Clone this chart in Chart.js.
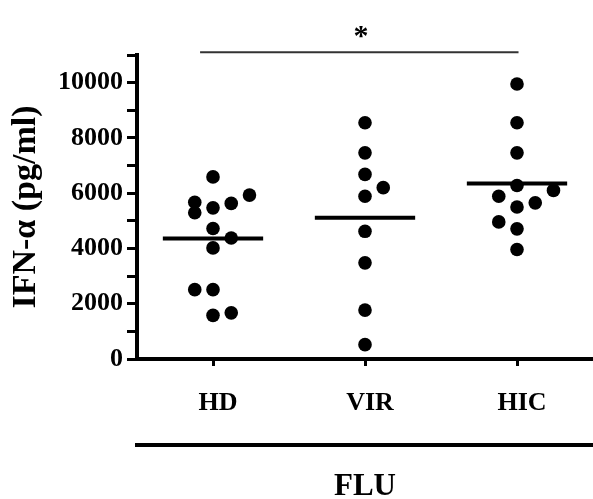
<!DOCTYPE html>
<html>
<head>
<meta charset="utf-8">
<script src="https://cdn.jsdelivr.net/npm/chart.js@4/dist/chart.umd.min.js"></script>
<style>
html,body{margin:0;padding:0;background:#fff;}
canvas{display:block;}
</style>
</head>
<body>
<canvas id="c" width="593" height="499" style="width:593px;height:499px"></canvas>
<script>
// ---- data ----
const categories = ['HD', 'VIR', 'HIC'];
const groupTitle = 'FLU';
const yTitle = 'IFN-\u03B1 (pg/ml)';
const yTickValues = [0, 2000, 4000, 6000, 8000, 10000];

const hdValues  = [6590, 5930, 5630, 5470, 5670, 5290, 4720, 4380, 4020, 2510, 2510, 1580, 1670];
const hdColumns = [0, 2, 1, 0, -1, -1, 0, 1, 0, -1, 0, 0, 1];
const virValues  = [8550, 7460, 6680, 6200, 5890, 4620, 3480, 1770, 520];
const virColumns = [0, 0, 0, 1, 0, 0, 0, 0, 0];
const hicValues  = [9950, 8550, 7460, 6280, 6100, 5890, 5650, 5500, 4960, 4710, 3960];
const hicColumns = [0, 0, 0, 0, 2, -1, 1, 0, -1, 0, 0];

const groupMeans = [4360, 5110, 6350];
const sigPair = [0, 2];
const sigLevel = 11100;
const sigMark = '*';

// ---- build chart ----
const colStep = 0.12;
const halfMean = 0.33;
const serif = "'Liberation Serif', 'Times New Roman', serif";

function pts(values, columns, gi) {
  return values.map((v, i) => ({ x: gi + columns[i] * colStep, y: v }));
}
const groups = [[hdValues, hdColumns], [virValues, virColumns], [hicValues, hicColumns]];

const datasets = [];
groups.forEach((g, gi) => {
  datasets.push({
    type: 'scatter',
    label: categories[gi],
    data: pts(g[0], g[1], gi),
    backgroundColor: '#000',
    borderWidth: 0,
    pointRadius: 6.8,
    pointHoverRadius: 6.8
  });
});
groupMeans.forEach((m, gi) => {
  datasets.push({
    type: 'line',
    label: categories[gi] + ' mean',
    data: [{ x: gi - halfMean, y: m }, { x: gi + halfMean, y: m }],
    borderColor: '#000',
    borderWidth: 4,
    pointRadius: 0,
    fill: false
  });
});
datasets.push({
  type: 'line',
  label: 'significance',
  data: [{ x: sigPair[0] - 0.085, y: sigLevel }, { x: sigPair[1] + 0.01, y: sigLevel }],
  borderColor: '#333',
  borderWidth: 2,
  pointRadius: 0,
  fill: false,
  clip: false
});

const starPlugin = {
  id: 'star',
  afterDatasetsDraw(chart) {
    const { ctx, scales } = chart;
    const x = scales.x.getPixelForValue((sigPair[0] + sigPair[1]) / 2);
    const y = scales.y.getPixelForValue(sigLevel);
    ctx.save();
    ctx.fillStyle = '#000';
    ctx.font = "bold 30px " + serif;
    ctx.textAlign = 'center';
    ctx.textBaseline = 'alphabetic';
    ctx.fillText(sigMark, x - 4, y - 7);
    ctx.restore();
  }
};

new Chart(document.getElementById('c'), {
  data: { datasets },
  plugins: [starPlugin],
  options: {
    responsive: false,
    devicePixelRatio: 1,
    animation: false,
    events: [],
    layout: { autoPadding: false, padding: { top: 55, right: 0, left: 0, bottom: 0 } },
    plugins: { legend: { display: false }, tooltip: { enabled: false } },
    scales: {
      x: {
        type: 'linear',
        position: 'bottom',
        min: -0.5,
        max: 2.5,
        afterBuildTicks: (s) => { s.ticks = categories.map((c, i) => ({ value: i })); },
        afterFit: (s) => { s.height = 86; },
        ticks: {
          callback: (v) => categories[v],
          color: '#000',
          font: { family: serif, size: 26, weight: 'bold' },
          padding: 22,
          labelOffset: 5,
          maxRotation: 0,
          autoSkip: false
        },
        grid: { display: true, drawOnChartArea: false, tickLength: 7, tickWidth: 3, tickColor: '#000' },
        border: { display: true, color: '#000', width: 4 }
      },
      x2: {
        type: 'linear',
        position: 'bottom',
        min: -0.5,
        max: 2.5,
        afterFit: (s) => { s.height = 54; },
        ticks: { display: false },
        grid: { display: false },
        border: { display: true, color: '#000', width: 4 },
        title: {
          display: true,
          text: groupTitle,
          color: '#000',
          font: { family: serif, size: 31, weight: 'bold', lineHeight: 0.8 },
          padding: { top: 28, bottom: 0 }
        }
      },
      y: {
        type: 'linear',
        min: 0,
        max: 11000,
        afterBuildTicks: (s) => {
          const t = [];
          for (let v = 0; v <= 11000; v += 1000) t.push({ value: v });
          s.ticks = t;
        },
        afterFit: (s) => { s.width = 137; },
        ticks: {
          callback: (v) => (yTickValues.includes(v) ? String(v) : ''),
          color: '#000',
          font: { family: serif, size: 26, weight: 'bold' },
          padding: 4,
          autoSkip: false
        },
        grid: { display: true, drawOnChartArea: false, tickLength: 10, tickWidth: 3, tickColor: '#000' },
        border: { display: true, color: '#000', width: 4 },
        title: {
          display: true,
          text: yTitle,
          color: '#000',
          font: { family: serif, size: 34, weight: 'bold' },
          padding: { top: 6, bottom: 0 }
        }
      }
    }
  }
});
</script>
</body>
</html>
